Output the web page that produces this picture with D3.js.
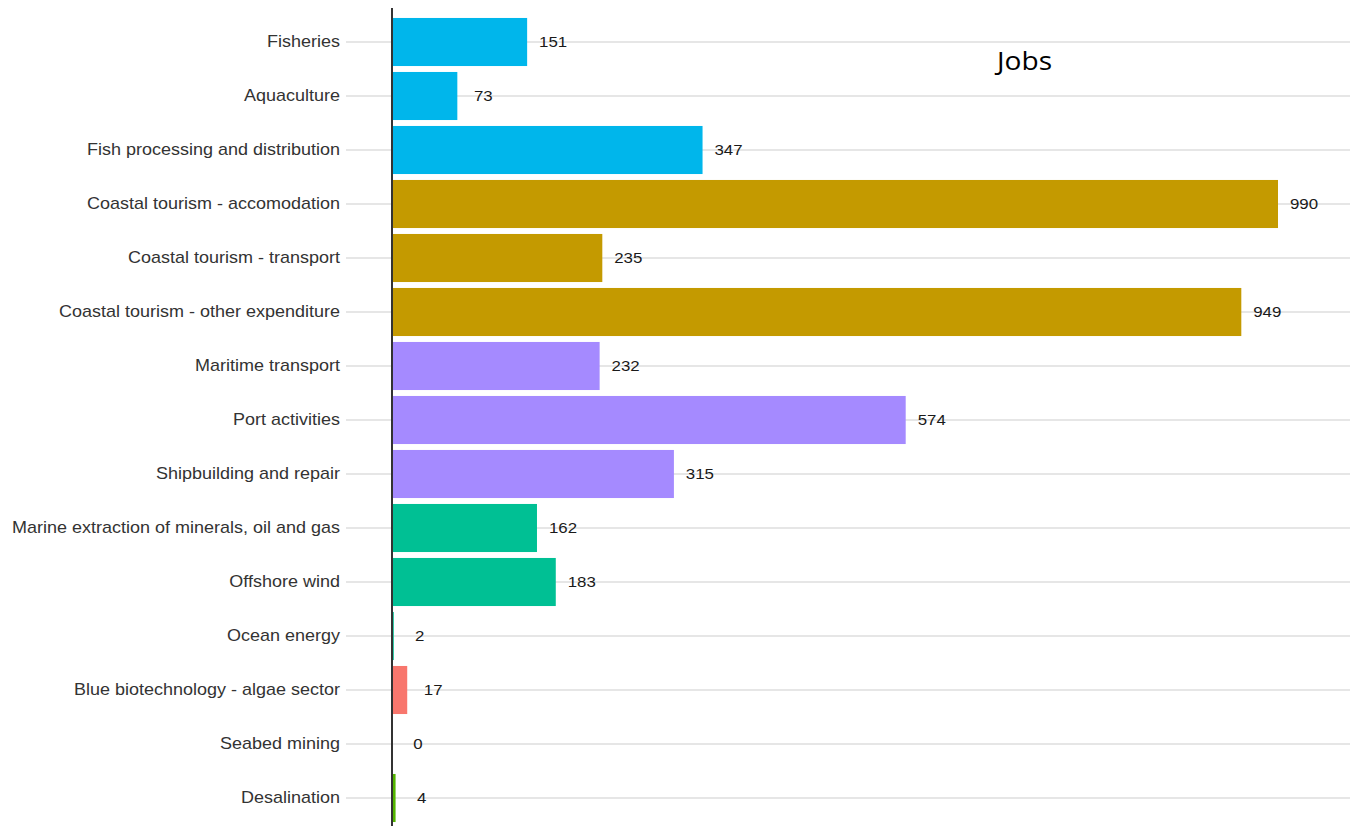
<!DOCTYPE html>
<html>
<head>
<meta charset="utf-8">
<script src="https://cdn.jsdelivr.net/npm/d3@7"></script>
<style>
  body { margin: 0; background: #fff; }
  svg { display: block; }
</style>
</head>
<body>
<svg id="chart" width="1358" height="826"></svg>
<script>
// sectors, top to bottom
const categories = [
    "Fisheries",
    "Aquaculture",
    "Fish processing and distribution",
    "Coastal tourism - accomodation",
    "Coastal tourism - transport",
    "Coastal tourism - other expenditure",
    "Maritime transport",
    "Port activities",
    "Shipbuilding and repair",
    "Marine extraction of minerals, oil and gas",
    "Offshore wind",
    "Ocean energy",
    "Blue biotechnology - algae sector",
    "Seabed mining",
    "Desalination"
];
const jobs = [151, 73, 347, 990, 235, 949, 232, 574, 315, 162, 183, 2, 17, 0, 4];
const groups = [
    "living", "living", "living",
    "tourism", "tourism", "tourism",
    "maritime", "maritime", "maritime",
    "nonliving", "nonliving", "nonliving",
    "biotech", "mining", "desalination"
];
const groupNames = ["biotech", "tourism", "desalination", "nonliving", "living", "maritime", "mining"];
const title = "Jobs";

const canvas = d3.select("#chart");
const w = +canvas.attr("width");
const h = +canvas.attr("height");

const axisX = 392;   // zero line
const gridLeft = 346;
const gridRight = 1350;
const stretch = 1.125; // the original picture is a bit wider than tall

const dataset = categories.map((c, i) => ({ name: c, value: jobs[i], group: groups[i] }));

const xScale = d3.scaleLinear()
    .domain([0, 990])
    .range([axisX, 1278]);

const yScale = d3.scaleBand()
    .domain(categories)
    .range([15, 825])
    .paddingInner(0.11)
    .paddingOuter(0.055);

const colour = d3.scaleOrdinal()
    .domain(groupNames)
    .range(["#F8766D", "#C49A00", "#53B400", "#00C094", "#00B6EB", "#A58AFF", "#FB61D7"]);

const mid = (d) => yScale(d) + yScale.bandwidth() / 2;

// horizontal gridlines through each category
canvas.append("g")
    .selectAll("line")
    .data(categories)
    .enter()
    .append("line")
    .attr("x1", gridLeft)
    .attr("x2", gridRight)
    .attr("y1", mid)
    .attr("y2", mid)
    .attr("stroke", "#dedede")
    .attr("stroke-width", 1.5);

// bars
canvas.append("g")
    .selectAll("rect")
    .data(dataset)
    .enter()
    .append("rect")
    .attr("x", xScale(0))
    .attr("y", (d) => yScale(d.name))
    .attr("width", (d) => xScale(d.value) - xScale(0))
    .attr("height", yScale.bandwidth())
    .attr("fill", (d) => colour(d.group));

// value labels
canvas.append("g")
    .selectAll("text")
    .data(dataset)
    .enter()
    .append("text")
    .attr("transform", (d) => "translate(" + (xScale(d.value) + 26) + "," + mid(d.name) + ") scale(" + stretch + ",1)")
    .attr("dy", "0.35em")
    .attr("text-anchor", "middle")
    .attr("font-family", "Liberation Sans, Arial, sans-serif")
    .attr("font-size", 15)
    .attr("fill", "#1a1a1a")
    .text((d) => d.value);

// category axis on the left
const yAxis = d3.axisLeft(yScale).tickSize(0).tickPadding(0);
const yG = canvas.append("g")
    .attr("transform", "translate(" + (gridLeft - 6) + ",0)")
    .call(yAxis);
yG.select(".domain").remove();
yG.selectAll(".tick")
    .attr("transform", (d) => "translate(0," + mid(d) + ") scale(" + stretch + ",1)");
yG.selectAll("text")
    .attr("font-family", "Liberation Sans, Arial, sans-serif")
    .attr("font-size", 16)
    .attr("fill", "#333");

// zero line
canvas.append("line")
    .attr("x1", axisX)
    .attr("x2", axisX)
    .attr("y1", 8)
    .attr("y2", h)
    .attr("stroke", "#333")
    .attr("stroke-width", 2);

// title
canvas.append("text")
    .attr("transform", "translate(997,70) scale(" + stretch + ",1)")
    .attr("font-family", "Open Sans, sans-serif")
    .attr("font-size", 25)
    .attr("fill", "#000")
    .text(title);
</script>
</body>
</html>
